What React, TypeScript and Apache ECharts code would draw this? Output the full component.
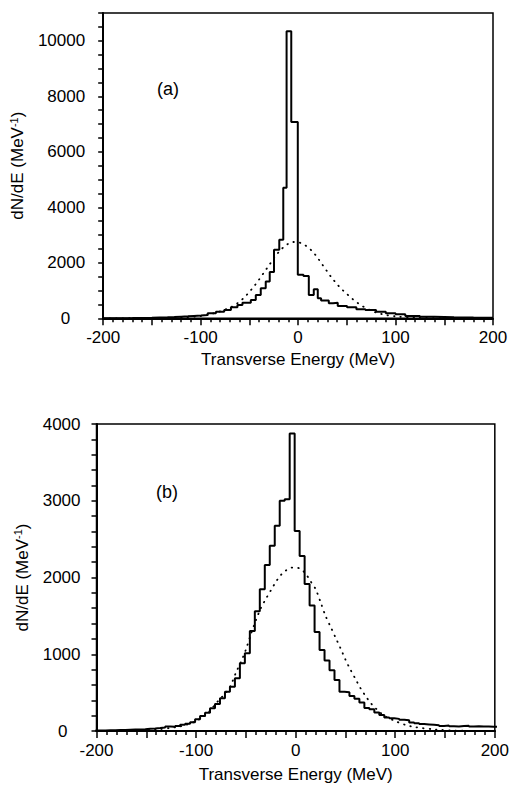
import React, { useEffect, useRef } from "react";
import * as echarts from "echarts";

// ---- Panel (a): histogram bin edges (MeV) and heights (MeV^-1) ----
const edgesA = [-200, -185, -170, -160, -150, -142, -134, -127, -120, -113, -107, -99.6, -92.8, -84.3, -75.8, -68.9, -62.2, -57.1, -48.5, -43.4, -38.3, -33.2, -29.1, -24.7, -19.3, -15.2, -11.8, -7.0, -0.3, 5.5, 11, 16.1, 20.2, 23.6, 31.5, 35.9, 40.7, 50.2, 59.8, 69, 80, 90, 100, 110, 125, 140, 160, 180, 200];
const countsA = [5, 10, 15, 20, 28, 35, 45, 60, 70, 85, 100, 119, 180, 240, 300, 398, 481, 564, 662, 843, 1085, 1324, 1664, 2470, 2832, 4702, 10345, 7075, 1566, 1520, 843, 1049, 723, 637, 543, 564, 445, 398, 326, 300, 240, 180, 145, 83, 57, 35, 25, 20];
// dotted curve (a)
const dotAX = [-200, -150, -120, -100, -90, -80, -70, -65, -60, -55, -50, -45, -40, -35, -30, -25, -20, -15, -10, -5, 0, 5, 10, 15, 20, 25, 30, 35, 40, 45, 50, 55, 60, 65, 70, 75, 80, 90, 100, 120, 150, 200];
const dotAY = [0, 5, 30, 80, 150, 250, 380, 480, 600, 760, 950, 1160, 1400, 1650, 1900, 2150, 2380, 2560, 2690, 2750, 2740, 2680, 2560, 2400, 2180, 1930, 1680, 1440, 1230, 1040, 880, 720, 580, 460, 360, 280, 210, 120, 70, 20, 5, 0];

// ---- Panel (b): 5 MeV bins starting at -201 MeV ----
const binStartB = -201;
const binWidthB = 5;
const countsB = [8, 8, 10, 10, 12, 12, 15, 18, 20, 22, 28, 32, 38, 45, 60, 55, 65, 80, 95, 115, 152, 195, 239, 295, 352, 426, 512, 578, 686, 882, 1012, 1303, 1560, 1846, 2163, 2414, 2675, 3000, 3020, 3875, 2605, 2280, 1915, 1635, 1290, 1055, 920, 790, 665, 512, 505, 456, 420, 370, 300, 285, 240, 210, 175, 165, 158, 148, 140, 112, 100, 90, 85, 80, 75, 65, 72, 62, 60, 66, 70, 60, 62, 58, 60, 55, 55];
// dotted curve (b)
const dotBX = [-200, -160, -140, -120, -110, -100, -90, -85, -80, -75, -70, -65, -60, -55, -50, -45, -40, -35, -30, -25, -20, -15, -10, -5, 0, 5, 10, 15, 20, 25, 30, 35, 40, 45, 50, 55, 60, 65, 70, 75, 80, 85, 90, 100, 110, 120, 140, 160, 200];
const dotBY = [0, 5, 20, 50, 80, 130, 210, 280, 360, 430, 500, 600, 760, 900, 1060, 1260, 1440, 1600, 1720, 1830, 1940, 2030, 2090, 2125, 2130, 2110, 2050, 1950, 1850, 1680, 1500, 1360, 1220, 1080, 930, 800, 680, 560, 460, 370, 300, 240, 190, 130, 80, 50, 20, 5, 0];

// tick labels
const xLabelValues = [-200, -100, 0, 100, 200];
const yLabelStepA = 2000;
const yLabelStepB = 1000;
const xName = "Transverse Energy (MeV)";
const yName = "dN/dE (MeV{sup|-1})";

const FONT = "'Liberation Sans', Arial, Helvetica, sans-serif";
const FS = 17;

function stepData(edges: number[], counts: number[]) {
  const d: number[][] = [];
  for (let i = 0; i < counts.length; i++) d.push([edges[i], counts[i]]);
  d.push([edges[edges.length - 1], counts[counts.length - 1]]);
  return d;
}

function zip(xs: number[], ys: number[]) {
  return xs.map((x, i) => [x, ys[i]]);
}

export default function App() {
  const ref = useRef<HTMLDivElement>(null);
  useEffect(() => {
    if (!ref.current) return;
    const chart = echarts.init(ref.current, null, { renderer: "svg" });
    const edgesB: number[] = [];
    for (let i = 0; i <= countsB.length; i++) edgesB.push(binStartB + i * binWidthB);

    const xAxisBase = (gridIndex: number) => ({
      type: "value",
      gridIndex,
      min: -200,
      max: 200,
      interval: 50,
      name: xName,
      nameLocation: "middle",
      nameGap: gridIndex === 0 ? 33 : 35,
      nameTextStyle: { fontFamily: FONT, fontSize: FS, color: "#000" },
      axisLine: { show: true, onZero: false, lineStyle: { color: "#000", width: 2 } },
      axisTick: { show: true, length: 7, lineStyle: { color: "#000", width: 1.5 } },
      minorTick: { show: true, splitNumber: 5, length: 4, lineStyle: { color: "#000", width: 1.5 } },
      splitLine: { show: false },
      axisLabel: {
        fontFamily: FONT,
        fontSize: FS,
        color: "#000",
        margin: 11,
        formatter: (v: number) => (xLabelValues.includes(v) ? String(v) : ""),
      },
    });

    const yAxisBase = (gridIndex: number, max: number, interval: number, minorSplit: number, labelStep: number, zeroPad: number, gap: number, margin: number) => ({
      type: "value",
      gridIndex,
      min: 0,
      max,
      interval,
      name: yName,
      nameLocation: "middle",
      nameGap: gap,
      nameTextStyle: {
        fontFamily: FONT,
        fontSize: FS,
        color: "#000",
        lineHeight: 19,
        rich: { sup: { fontFamily: FONT, fontSize: 11, color: "#000", verticalAlign: "top", lineHeight: 19 } },
      },
      axisLine: { show: true, onZero: false, lineStyle: { color: "#000", width: 2 } },
      axisTick: { show: true, length: 5, lineStyle: { color: "#000", width: 1.5 } },
      minorTick: { show: true, splitNumber: minorSplit, length: 5, lineStyle: { color: "#000", width: 1.5 } },
      splitLine: { show: false },
      axisLabel: {
        fontFamily: FONT,
        fontSize: FS,
        color: "#000",
        margin,
        showMaxLabel: max % labelStep === 0,
        formatter: (v: number) => (v === 0 ? "{z|0}" : v % labelStep === 0 ? String(v) : ""),
        rich: { z: { fontFamily: FONT, fontSize: FS, color: "#000", padding: [0, zeroPad, 0, 0] } },
      },
    });

    chart.setOption({
      animation: false,
      backgroundColor: "#fff",
      grid: [
        { left: 100.5, top: 13, width: 392.5, height: 305.3, show: true, borderColor: "#000", borderWidth: 1.5, backgroundColor: "transparent" },
        { left: 96.5, top: 424, width: 401, height: 307, show: true, borderColor: "#000", borderWidth: 1.5, backgroundColor: "transparent" },
      ],
      xAxis: [xAxisBase(0), xAxisBase(1)],
      yAxis: [
        yAxisBase(0, 11000, 1000, 2, yLabelStepA, 15, 67, 18),
        yAxisBase(1, 4000, 1000, 5, yLabelStepB, 13, 63, 16),
      ],
      graphic: [
        { type: "text", left: 157, top: 80, style: { text: "(a)", fontFamily: FONT, fontSize: 18, fill: "#000" } },
        { type: "text", left: 156, top: 483, style: { text: "(b)", fontFamily: FONT, fontSize: 18, fill: "#000" } },
      ],
      series: [
        {
          type: "line", xAxisIndex: 0, yAxisIndex: 0, data: zip(dotAX, dotAY), symbol: "none", smooth: 0.3,
          lineStyle: { color: "#000", width: 1.8, type: [0.5, 6], cap: "round" }, z: 2,
        },
        {
          type: "line", xAxisIndex: 0, yAxisIndex: 0, data: stepData(edgesA, countsA), step: "end", symbol: "none",
          lineStyle: { color: "#000", width: 2 }, z: 3,
        },
        {
          type: "line", xAxisIndex: 1, yAxisIndex: 1, data: zip(dotBX, dotBY), symbol: "none", smooth: 0.3,
          lineStyle: { color: "#000", width: 1.8, type: [0.5, 6], cap: "round" }, z: 2,
        },
        {
          type: "line", xAxisIndex: 1, yAxisIndex: 1, data: stepData(edgesB, countsB), step: "end", symbol: "none",
          lineStyle: { color: "#000", width: 2 }, z: 3,
        },
      ],
    });
    return () => chart.dispose();
  }, []);
  return <div ref={ref} style={{ position: "absolute", left: 0, top: 0, width: 512, height: 786, background: "#fff" }} />;
}
